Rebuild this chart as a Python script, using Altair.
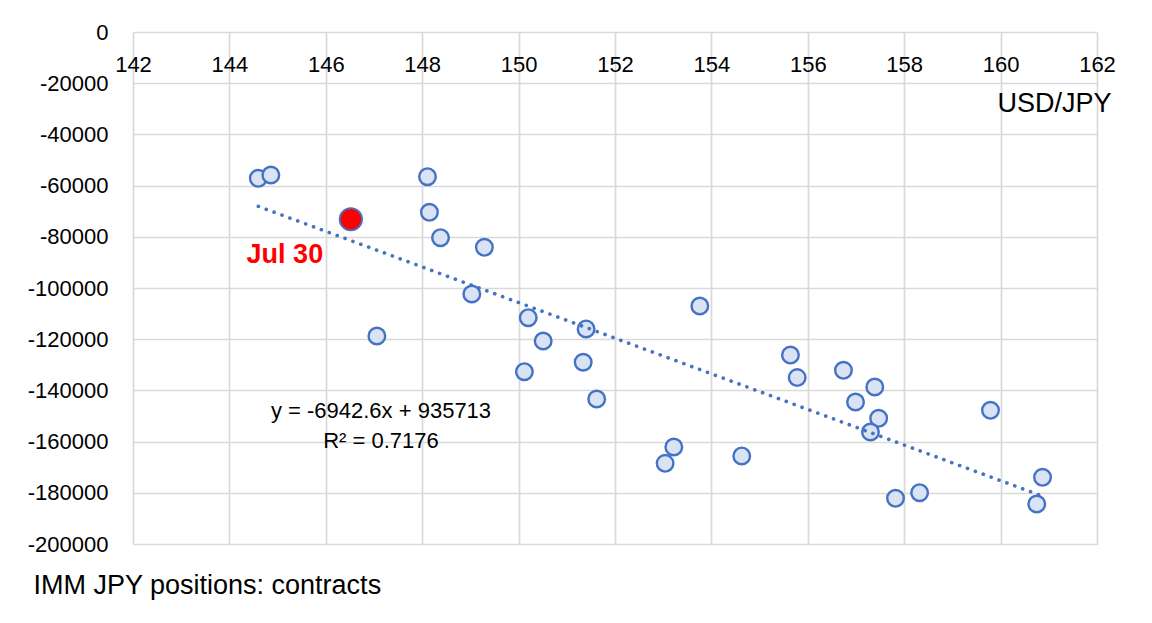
import altair as alt
import pandas as pd

# USD/JPY spot vs IMM JPY net positions (contracts)
usd_jpy = [144.60, 144.86, 148.11, 148.15, 148.38, 149.29, 149.03, 147.06,
           150.20, 150.51, 150.12, 151.40, 151.34, 151.62, 153.76, 153.22,
           153.04, 154.63, 155.64, 155.78, 156.74, 157.39, 156.99, 157.47,
           157.30, 157.82, 158.32, 159.79, 160.87, 160.75]
imm_pos = [-57150, -55860, -56520, -70430, -80350, -84100, -102340, -118750,
           -111600, -120700, -132700, -116000, -129000, -143360, -107030, -162100,
           -168500, -165600, -126200, -135000, -132160, -138670, -144530, -150900,
           -156250, -182150, -179960, -147770, -173950, -184380]

latest_x = [146.52]
latest_y = [-73160]
latest_label = ["Jul 30"]

eq_lines = ["y = -6942.6x + 935713", "R\u00b2 = 0.7176"]

x_ticks = [142, 144, 146, 148, 150, 152, 154, 156, 158, 160, 162]
y_ticks = [0, -20000, -40000, -60000, -80000, -100000, -120000, -140000,
           -160000, -180000, -200000]

FONT = "Liberation Sans, Arial, sans-serif"
BLUE = "#4472C4"
W, H = 964, 512

hist = pd.DataFrame({"x": usd_jpy + latest_x, "y": imm_pos + latest_y})
df_hist = pd.DataFrame({"x": usd_jpy, "y": imm_pos})
df_latest = pd.DataFrame({"x": latest_x, "y": latest_y, "label": latest_label})
df_eq1 = pd.DataFrame({"line": [eq_lines[0]]})
df_eq2 = pd.DataFrame({"line": [eq_lines[1]]})

x_scale = alt.Scale(domain=[142, 162], nice=False, zero=False)
y_scale = alt.Scale(domain=[-200000, 0], nice=False)

x_axis = alt.Axis(
    orient="bottom", offset=-H, values=x_ticks, grid=True, domain=False,
    ticks=False, labelPadding=22, labelBaseline="top", labelFontSize=22,
    labelFont=FONT, labelColor="black", gridColor="#d9d9d9", gridWidth=1.7,
    title="USD/JPY", titleFont=FONT, titleFontSize=27, titleFontWeight="normal",
    titleColor="black", titleAlign="right", titleAnchor="end", titleX=978,
    titleY=71, titleBaseline="middle", labelFlush=False, labelOverlap=False,
)
y_axis = alt.Axis(
    values=y_ticks, grid=True, domain=False, ticks=False, labelPadding=25,
    labelFontSize=22, labelFont=FONT, labelColor="black",
    labelExpr="'' + datum.value", gridColor="#d9d9d9", gridWidth=1.7,
    title="IMM JPY positions: contracts", titleFont=FONT, titleFontSize=27,
    titleFontWeight="normal", titleColor="black", titleAngle=0,
    titleAlign="left", titleBaseline="middle", titleX=-100, titleY=553,
    labelOverlap=False,
)

X = alt.X("x:Q", scale=x_scale, axis=x_axis)
Y = alt.Y("y:Q", scale=y_scale, axis=y_axis)

points = alt.Chart(df_hist).mark_point(
    shape="circle", filled=True, fill="#DAE3F3", stroke=BLUE, strokeWidth=2.4,
    size=275, opacity=1,
).encode(x=X, y=Y)

trend = alt.Chart(hist).transform_regression("x", "y", method="linear").mark_line(
    color=BLUE, strokeWidth=3.6, strokeDash=[0.1, 8.3], strokeCap="round",
).encode(x=X, y=Y)

latest = alt.Chart(df_latest).mark_point(
    shape="circle", filled=True, fill="#FF0000", stroke=BLUE, strokeWidth=1.8,
    size=500, opacity=1,
).encode(x=X, y=Y)

latest_text = alt.Chart(df_latest).mark_text(
    font=FONT, fontSize=27, fontWeight="bold", color="#FF0000", dx=-66, dy=36,
    align="center", baseline="middle",
).encode(x=X, y=Y, text="label:N")

eq_text1 = alt.Chart(df_eq1).mark_text(
    font=FONT, fontSize=22, color="black", align="center", baseline="middle",
).encode(x=alt.value(248), y=alt.value(379), text="line:N")

eq_text2 = alt.Chart(df_eq2).mark_text(
    font=FONT, fontSize=22, color="black", align="center", baseline="middle",
).encode(x=alt.value(248), y=alt.value(409), text="line:N")

chart = alt.layer(points, trend, latest, latest_text, eq_text1, eq_text2).properties(
    width=W, height=H,
    autosize=alt.AutoSizeParams(type="none"),
    padding={"left": 125, "top": 24, "right": 40, "bottom": 60},
).configure_view(stroke=None)

chart.save("out.html", embed_options={"renderer": "svg", "actions": False})
